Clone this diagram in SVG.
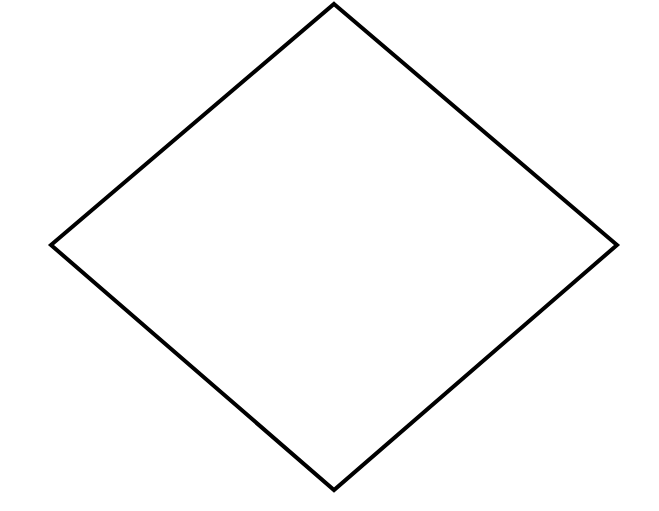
<svg xmlns="http://www.w3.org/2000/svg" width="659" height="511" viewBox="0 0 659 511">
<style>.shape{fill:#ffffff;stroke:#000000;stroke-width:4;stroke-linejoin:miter}</style>
<rect width="659" height="511" fill="#ffffff"/>
<g id="node-diamond">
<polygon class="shape" points="334,4 617,245 334,490 51,245"/>
</g>
<g id="connectors"></g>
</svg>
